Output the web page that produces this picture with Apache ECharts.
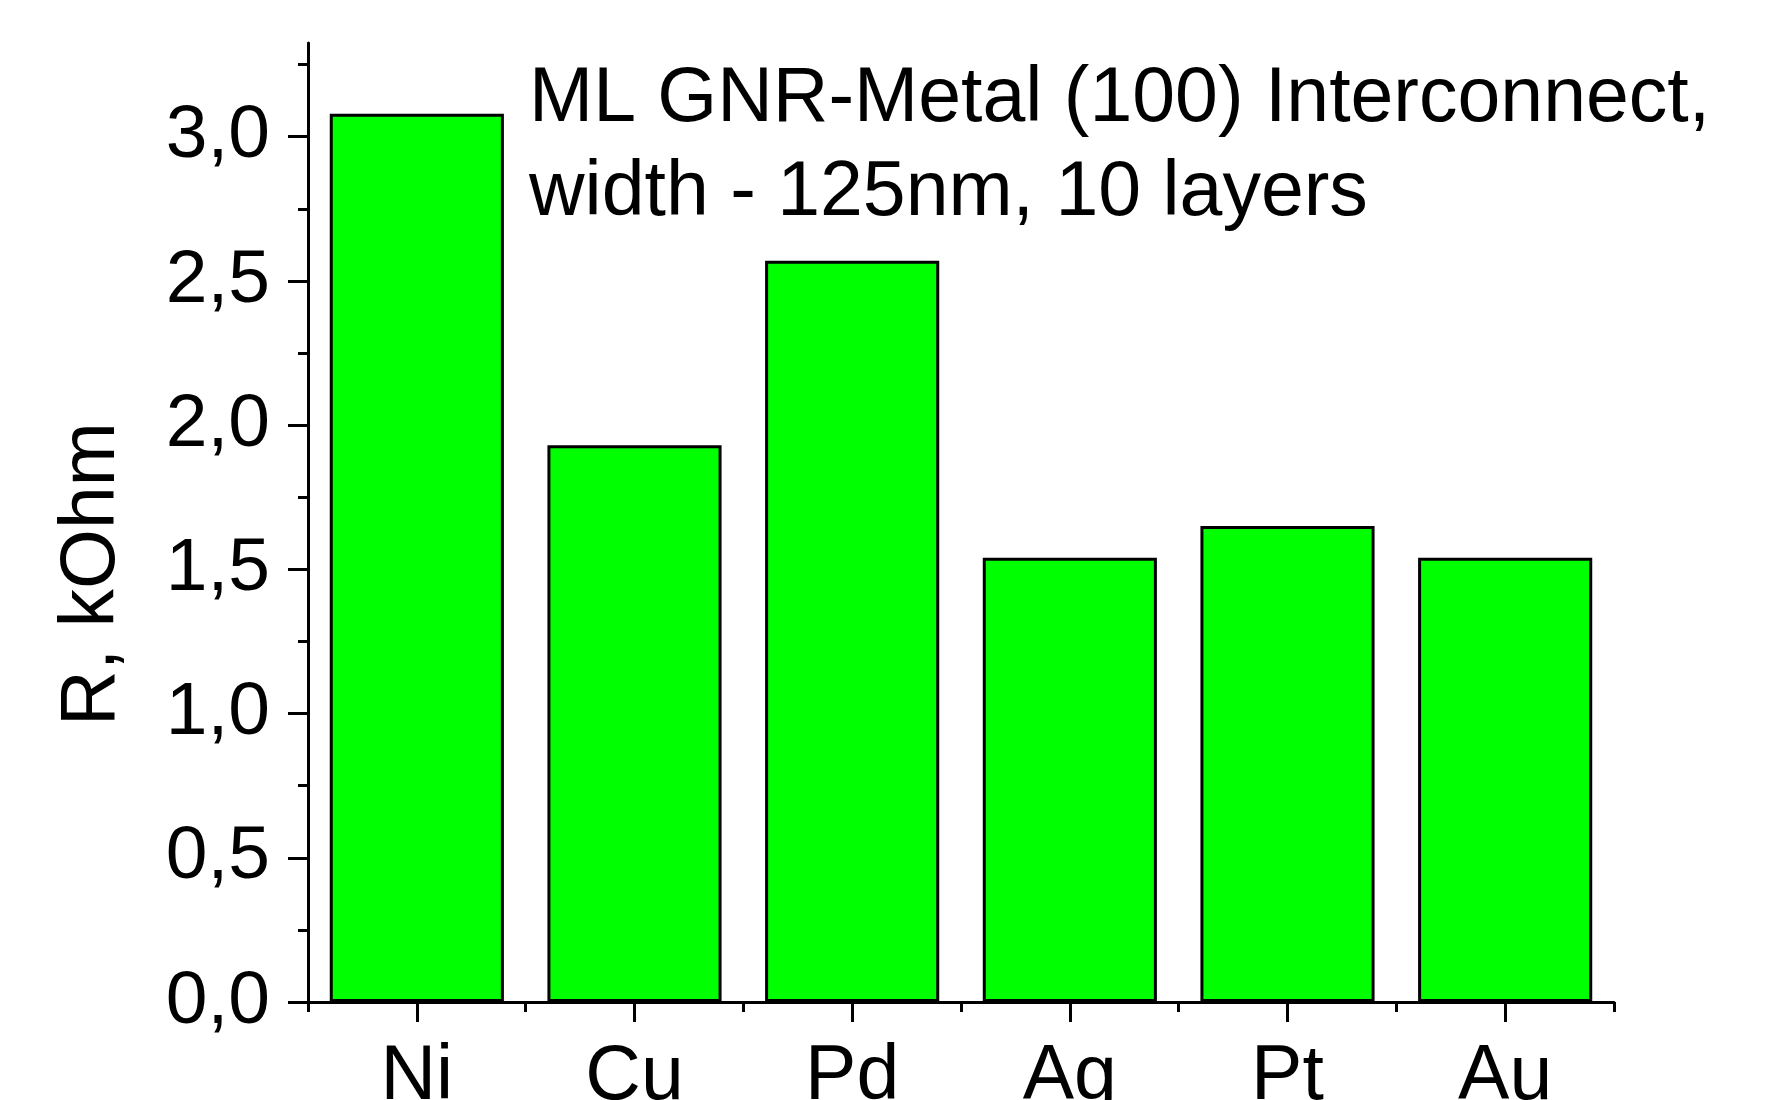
<!DOCTYPE html>
<html>
<head>
<meta charset="utf-8">
<script src="https://cdn.jsdelivr.net/npm/echarts@6/dist/echarts.min.js"></script>
<style>
html,body{margin:0;padding:0;background:#fff;}
#chart{width:1769px;height:1100px;}
</style>
</head>
<body>
<div id="chart"></div>
<script>
const categories = ['Ni', 'Cu', 'Pd', 'Ag', 'Pt', 'Au'];
const resistance = [3.08, 1.93, 2.57, 1.54, 1.65, 1.54];
const majorTicks = [0, 0.5, 1.0, 1.5, 2.0, 2.5, 3.0];
const minorTicks = [0.25, 0.75, 1.25, 1.75, 2.25, 2.75, 3.25];
const titleLines = ['ML GNR-Metal (100) Interconnect,', 'width - 125nm, 10 layers'];
const yAxisTitle = 'R, kOhm';

const FONT = '"Liberation Sans", Arial, Helvetica, sans-serif';
const chart = echarts.init(document.getElementById('chart'));

chart.setOption({
  animation: false,
  backgroundColor: '#ffffff',
  grid: { left: 308, right: 155, top: 43, bottom: 98, containLabel: false, outerBoundsMode: 'none' },
  xAxis: [
    {
      type: 'category',
      data: categories,
      boundaryGap: true,
      axisLine: { show: true, lineStyle: { color: '#000', width: 3 } },
      axisTick: { show: true, alignWithLabel: true, length: 20, lineStyle: { color: '#000', width: 3 } },
      axisLabel: { show: true, margin: 37, color: '#000', fontSize: 77, fontFamily: FONT },
      splitLine: { show: false }
    },
    {
      type: 'category',
      data: categories,
      position: 'bottom',
      boundaryGap: true,
      axisLine: { show: false },
      axisTick: { show: true, alignWithLabel: false, interval: 0, length: 10, lineStyle: { color: '#000', width: 3 } },
      axisLabel: { show: false },
      splitLine: { show: false }
    }
  ],
  yAxis: [
    {
      type: 'value',
      min: 0,
      max: 3.325,
      interval: 0.5,
      axisLine: { show: true, lineStyle: { color: '#000', width: 3 } },
      axisTick: { show: true, length: 20, customValues: majorTicks, lineStyle: { color: '#000', width: 3 } },
      axisLabel: {
        show: true,
        customValues: majorTicks,
        margin: 38,
        color: '#000',
        fontSize: 75,
        fontFamily: FONT,
        padding: [0, 0, 8, 0],
        formatter: v => v.toFixed(1).replace('.', ',')
      },
      splitLine: { show: false }
    },
    {
      type: 'value',
      min: 0,
      max: 3.325,
      interval: 0.5,
      position: 'left',
      axisLine: { show: false },
      axisTick: { show: true, length: 10, customValues: minorTicks, lineStyle: { color: '#000', width: 3 } },
      axisLabel: { show: false },
      splitLine: { show: false }
    }
  ],
  series: [
    {
      type: 'bar',
      data: resistance,
      xAxisIndex: 0,
      yAxisIndex: 0,
      barCategoryGap: '20%',
      itemStyle: { color: '#00ff00', borderColor: '#000', borderWidth: 3 }
    }
  ],
  graphic: [
    {
      type: 'text',
      x: 529, y: 100,
      style: { text: titleLines[0], font: '77px ' + FONT, fill: '#000', textAlign: 'left', align: 'left', textVerticalAlign: 'middle', verticalAlign: 'middle' }
    },
    {
      type: 'text',
      x: 529, y: 194,
      style: { text: titleLines[1], font: '77px ' + FONT, fill: '#000', textAlign: 'left', align: 'left', textVerticalAlign: 'middle', verticalAlign: 'middle' }
    },
    {
      type: 'text',
      x: 93, y: 574,
      rotation: Math.PI / 2,
      style: { text: yAxisTitle, font: '77px ' + FONT, fill: '#000', textAlign: 'center', align: 'center', textVerticalAlign: 'middle', verticalAlign: 'middle' }
    }
  ]
});
</script>
</body>
</html>
